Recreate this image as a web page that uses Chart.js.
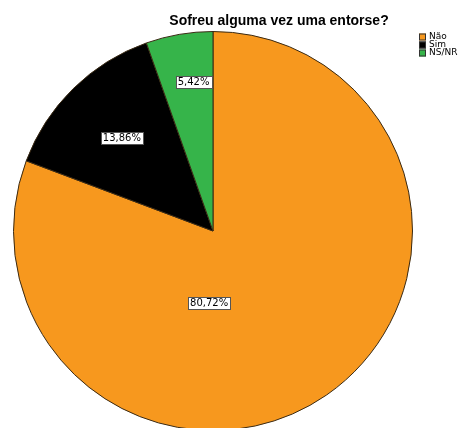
<!DOCTYPE html>
<html>
<head>
<meta charset="utf-8">
<script src="https://cdn.jsdelivr.net/npm/chart.js@4"></script>
<style>
  html, body { margin: 0; padding: 0; background: #fff; overflow: hidden; }
  #wrap { width: 459px; height: 440px; position: relative; }
</style>
</head>
<body>
<div id="wrap"><canvas id="chart1"></canvas></div>
<script>
const categories = ['Não', 'Sim', 'NS/NR'];
const percentages = [80.72, 13.86, 5.42];
const sliceColors = ['#f7981e', '#000000', '#36b44a'];

// where each value label sits: fraction along the slice, fraction of radius
const labelAlong = [0.63, 0.5, 0.62];
const labelRadius = [0.363, 0.652, 0.755];

const fmt = v => v.toFixed(2).replace('.', ',') + '%';

const extras = {
    id: 'extras',
    afterDraw(chart) {
        const ctx = chart.ctx;
        const arcs = chart.getDatasetMeta(0).data;

        // value labels in white boxes
        ctx.save();
        ctx.font = '10px "DejaVu Sans"';
        ctx.textAlign = 'center';
        ctx.textBaseline = 'middle';
        arcs.forEach((arc, i) => {
            const a = arc.startAngle + (arc.endAngle - arc.startAngle) * labelAlong[i];
            const r = arc.outerRadius * labelRadius[i];
            const x = arc.x + Math.cos(a) * r;
            const y = arc.y + Math.sin(a) * r;
            const txt = fmt(percentages[i]);
            const w = ctx.measureText(txt).width + 4;
            const h = 12;
            ctx.fillStyle = '#fff';
            ctx.fillRect(Math.round(x - w / 2) + 0.5, Math.round(y - h / 2) + 0.5, Math.round(w), h);
            ctx.strokeStyle = '#555';
            ctx.lineWidth = 1;
            ctx.strokeRect(Math.round(x - w / 2) + 0.5, Math.round(y - h / 2) + 0.5, Math.round(w), h);
            ctx.fillStyle = '#000';
            ctx.fillText(txt, x, y + 0.5);
        });

        // title
        ctx.font = 'bold 14px "Liberation Sans"';
        ctx.textBaseline = 'alphabetic';
        ctx.fillStyle = '#000';
        ctx.fillText('Sofreu alguma vez uma entorse?', 279, 25);

        // legend
        ctx.font = '9px "DejaVu Sans"';
        ctx.textAlign = 'left';
        ctx.textBaseline = 'middle';
        categories.forEach((c, i) => {
            const y = 37 + i * 8;
            ctx.fillStyle = sliceColors[i];
            ctx.fillRect(419, y - 3.5, 7, 7);
            ctx.strokeStyle = '#333';
            ctx.strokeRect(419.5, y - 3, 6, 6);
            ctx.fillStyle = '#000';
            ctx.fillText(c, 429, y);
        });
        ctx.restore();
    }
};

new Chart('chart1', {
    type: 'pie',
    data: {
        labels: categories,
        datasets: [{
            data: percentages,
            backgroundColor: sliceColors,
            borderColor: '#3a2a14',
            borderWidth: 1
        }]
    },
    options: {
        responsive: true,
        maintainAspectRatio: false,
        animation: false,
        layout: {
            padding: { left: 13, right: 46, top: 31, bottom: 9 }
        },
        plugins: {
            legend: { display: false },
            title: { display: false },
            tooltip: { enabled: false }
        }
    },
    plugins: [extras]
});
</script>
</body>
</html>
